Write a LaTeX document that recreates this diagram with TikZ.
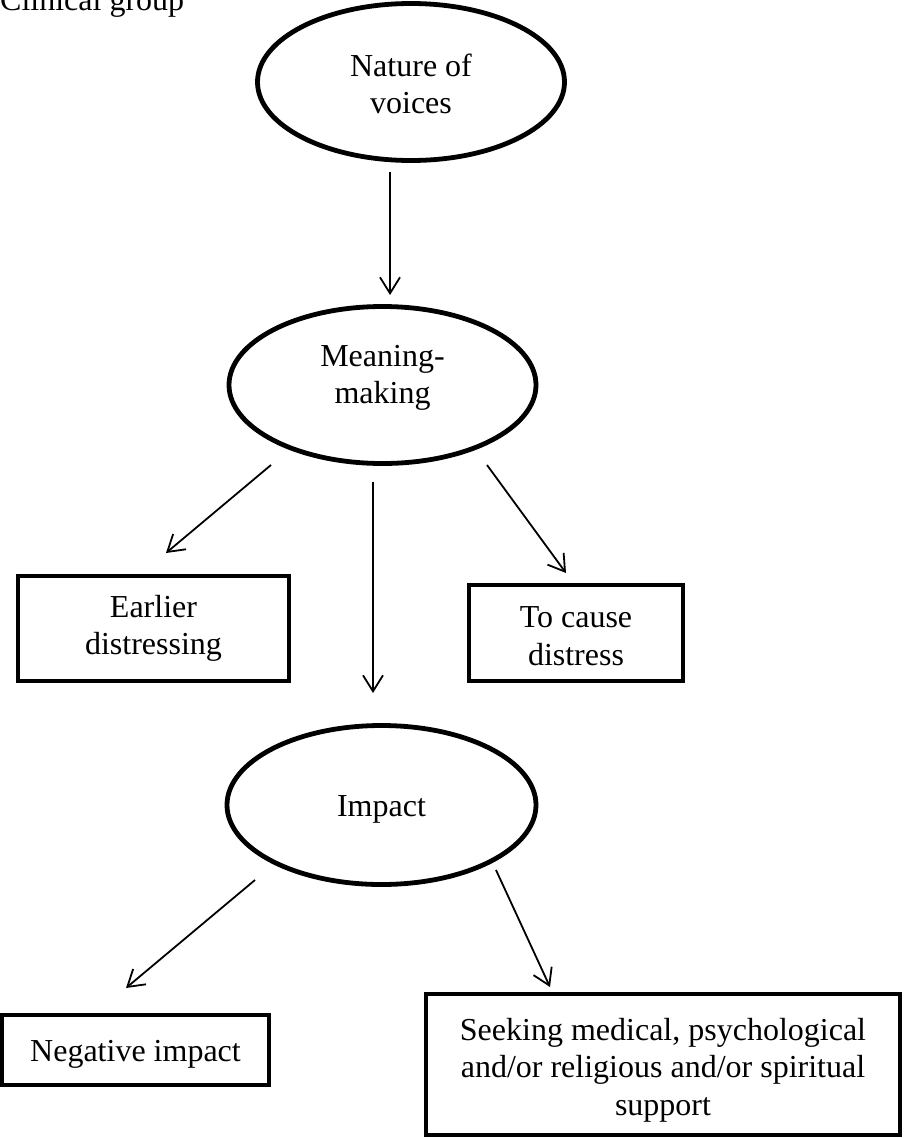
\documentclass[tikz,border=0pt]{standalone}
\usepackage{fontspec}
\setmainfont{Liberation Serif}
\usetikzlibrary{shapes.geometric,arrows.meta}
\begin{document}
\begin{tikzpicture}[x=1pt,y=-1pt,
  every node/.style={font=\fontsize{32}{37.5}\selectfont, align=center, inner sep=0pt},
  oval/.style={draw, ellipse, line width=4.8pt, minimum width=307pt, minimum height=157pt},
  rbox/.style={draw, rectangle, line width=4pt},
  conn/.style={line width=1.8pt, -{Straight Barb[length=16pt,width=20pt,line width=1.8pt]}}
]
\useasboundingbox (0,0) rectangle (904,1138);

\node[anchor=base west] (title) at (0,10) {Clinical group};

% shapes
\node[oval] (nature) at (411,82) {};
\node[oval] (meaning) at (382.5,385) {};
\node[oval, minimum width=309pt, minimum height=159pt] (impact) at (381.5,805) {};

\node[rbox, minimum width=271pt, minimum height=105pt] (earlier) at (153.5,628.5) {};
\node[rbox, minimum width=214pt, minimum height=96pt] (cause) at (576,633) {};
\node[rbox, minimum width=267pt, minimum height=70pt] (negative) at (135.5,1050) {};
\node[rbox, minimum width=474pt, minimum height=141pt] (seeking) at (663,1064.5) {};

% texts
\node (naturetxt) at ([yshift=-2pt]nature.center) {Nature of\\voices};
\node (meaningtxt) at ([yshift=7pt]meaning.center) {Meaning-\\making};
\node (impacttxt) at ([yshift=-4.5pt]impact.center) {Impact};
\node (earliertxt) at (earlier.center) {Earlier\\distressing};
\node (causetxt) at ([yshift=-3pt]cause.center) {To cause\\distress};
\node (negativetxt) at ([yshift=-4.5pt]negative.center) {Negative impact};
\node (seekingtxt) at ([yshift=-5.5pt]seeking.center) {Seeking medical, psychological\\and/or religious and/or spiritual\\support};

% connector ends
\coordinate (a1s) at (390,172);
\coordinate (a1e) at (390,295);
\coordinate (a2s) at (271,465);
\coordinate (a2e) at (166,553);
\coordinate (a3s) at (373,482);
\coordinate (a3e) at (373,693);
\coordinate (a4s) at (487,465);
\coordinate (a4e) at (566,573);
\coordinate (a5s) at (255,880);
\coordinate (a5e) at (126,988);
\coordinate (a6s) at (496,870);
\coordinate (a6e) at (550,987);

\draw[conn] (a1s) -- (a1e);
\draw[conn] (a2s) -- (a2e);
\draw[conn] (a3s) -- (a3e);
\draw[conn] (a4s) -- (a4e);
\draw[conn] (a5s) -- (a5e);
\draw[conn] (a6s) -- (a6e);
\end{tikzpicture}
\end{document}
